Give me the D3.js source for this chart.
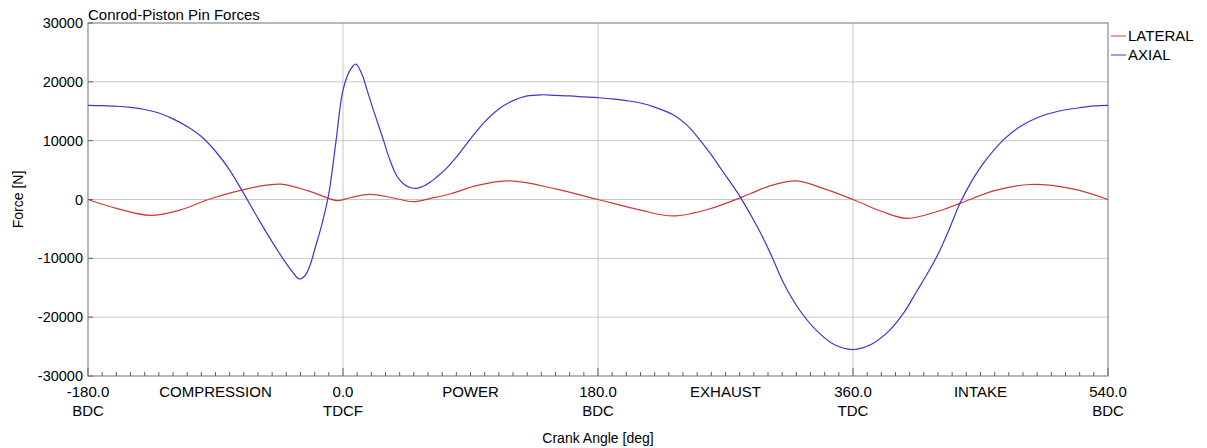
<!DOCTYPE html>
<html>
<head>
<meta charset="utf-8">
<script src="https://cdn.jsdelivr.net/npm/d3@7"></script>
<style>
  body { margin: 0; background: #fff; }
  text { font-family: "Liberation Sans", Arial, sans-serif; fill: #000; }
</style>
</head>
<body>
<script>
const width = 1207;
const height = 448;
const margin = {top: 23, right: 99, bottom: 72, left: 88};

// crank angle [deg] and force [N]
const axialAngle = [-180, -170, -160, -150, -140, -130, -120, -110, -100, -90, -80, -70, -60, -50, -45, -40, -35, -31, -27, -23, -20, -15, -10, -5, 0, 5, 9, 13, 17, 22, 28, 33, 38, 43, 48, 52, 57, 62, 67, 73, 80, 90, 100, 110, 120, 130, 140, 150, 160, 170, 180, 190, 200, 210, 220, 233, 243, 252, 260, 268, 275, 281, 293, 302, 311, 322, 334, 347, 360, 373, 386, 396, 405, 412, 420, 428, 435.5, 444, 452, 466, 478, 490, 505, 520, 530, 540];
const axialForce = [16000, 15950, 15850, 15650, 15300, 14700, 13700, 12400, 10700, 8200, 5000, 1000, -3200, -7200, -9100, -10900, -12500, -13500, -13000, -11000, -8500, -4300, 1000, 9800, 18600, 22000, 23000, 21500, 18600, 14800, 10500, 6800, 4000, 2600, 2000, 1900, 2300, 3000, 4000, 5300, 7200, 10300, 13200, 15400, 16800, 17600, 17800, 17700, 17600, 17450, 17300, 17100, 16800, 16400, 15700, 14400, 12600, 10100, 7600, 4800, 2400, 200, -4900, -9300, -14200, -18700, -22200, -24700, -25500, -24600, -22200, -19200, -15600, -12800, -9300, -5000, -650, 3200, 6150, 10100, 12400, 13900, 15000, 15600, 15900, 16000];

const lateralAngle = [-180, -160, -136, -115, -95, -78, -60, -44, -25, -10.6, -4, 5, 19, 35, 49.6, 62, 75.5, 95, 118, 150, 180, 210, 233, 260, 287, 300, 320, 340, 360, 380, 398, 420, 435.5, 460, 485, 515, 540];
const lateralForce = [0, -1500, -2700, -1800, 0, 1200, 2200, 2600, 1500, 250, -200, 300, 880, 300, -370, 200, 930, 2400, 3150, 1800, 0, -1800, -2800, -1500, 930, 2200, 3150, 1800, 0, -2000, -3200, -2000, -650, 1500, 2550, 1800, 0];

const yTicks = [-30000, -20000, -10000, 0, 10000, 20000, 30000];
const xMajor = [-180, 0, 180, 360, 540];
const xMajorLabel = ['BDC', 'TDCF', 'BDC', 'TDC', 'BDC'];
const strokeAngle = [-90, 90, 270, 450];
const strokeName = ['COMPRESSION', 'POWER', 'EXHAUST', 'INTAKE'];

const series = [
  {name: 'LATERAL', color: '#d03838', x: lateralAngle, y: lateralForce},
  {name: 'AXIAL', color: '#3838d0', x: axialAngle, y: axialForce}
];

const svg = d3.select('body').append('svg')
    .attr('width', width)
    .attr('height', height);

const x = d3.scaleLinear().domain([-180, 540]).range([margin.left, width - margin.right]);
const y = d3.scaleLinear().domain([-30000, 30000]).range([376, margin.top]);

const plotB = y(-30000);

// grid
svg.append('g').selectAll('line')
    .data(yTicks.slice(1, -1))
    .enter().append('line')
    .attr('x1', x(-180)).attr('x2', x(540))
    .attr('y1', d => y(d)).attr('y2', d => y(d))
    .attr('stroke', '#c8c8c8');
svg.append('g').selectAll('line')
    .data(xMajor.slice(1, -1))
    .enter().append('line')
    .attr('x1', d => x(d)).attr('x2', d => x(d))
    .attr('y1', y(30000)).attr('y2', plotB)
    .attr('stroke', '#c8c8c8');

// minor ticks on the x axis, every 10 deg
svg.append('g').selectAll('line')
    .data(d3.range(-180, 541, 10))
    .enter().append('line')
    .attr('x1', d => x(d)).attr('x2', d => x(d))
    .attr('y1', plotB).attr('y2', d => plotB - (d % 180 === 0 ? 8 : 4))
    .attr('stroke', '#606060');
svg.append('g').selectAll('line')
    .data(yTicks)
    .enter().append('line')
    .attr('x1', x(-180)).attr('x2', x(-180) + 5)
    .attr('y1', d => y(d)).attr('y2', d => y(d))
    .attr('stroke', '#606060');

// frame
svg.append('rect')
    .attr('x', x(-180)).attr('y', y(30000))
    .attr('width', x(540) - x(-180)).attr('height', plotB - y(30000))
    .attr('fill', 'none').attr('stroke', '#707070');

// curves
const line = d3.line().curve(d3.curveCatmullRom.alpha(0.5));
series.forEach(s => {
  svg.append('path')
      .attr('d', line(s.x.map((a, i) => [x(a), y(s.y[i])])))
      .attr('fill', 'none')
      .attr('stroke', s.color)
      .attr('stroke-width', 1.2);
});

// y labels
svg.append('g').selectAll('text')
    .data(yTicks)
    .enter().append('text')
    .attr('x', x(-180) - 5).attr('y', d => y(d) + 5)
    .attr('text-anchor', 'end')
    .style('font-size', '14.5px')
    .text(d => d);

// x labels
const xl = svg.append('g');
xl.selectAll('text.num')
    .data(xMajor)
    .enter().append('text')
    .attr('x', d => x(d)).attr('y', plotB + 21)
    .attr('text-anchor', 'middle')
    .style('font-size', '15px')
    .text(d => d.toFixed(1));
xl.selectAll('text.tag')
    .data(xMajor)
    .enter().append('text')
    .attr('x', d => x(d)).attr('y', plotB + 40)
    .attr('text-anchor', 'middle')
    .style('font-size', '15px')
    .text((d, i) => xMajorLabel[i]);
xl.selectAll('text.stroke')
    .data(strokeAngle)
    .enter().append('text')
    .attr('x', d => x(d)).attr('y', plotB + 21)
    .attr('text-anchor', 'middle')
    .style('font-size', '15px')
    .text((d, i) => strokeName[i]);

svg.append('text')
    .attr('x', x(180)).attr('y', 443)
    .attr('text-anchor', 'middle')
    .style('font-size', '14px')
    .text('Crank Angle [deg]');

svg.append('text')
    .attr('transform', `translate(23, ${y(0)}) rotate(-90)`)
    .attr('text-anchor', 'middle')
    .style('font-size', '14px')
    .text('Force [N]');

svg.append('text')
    .attr('x', x(-180)).attr('y', 20)
    .style('font-size', '15px')
    .text('Conrod-Piston Pin Forces');

// legend
const legend = svg.append('g').attr('transform', `translate(${x(540) + 3}, 36)`);
series.forEach((s, i) => {
  legend.append('line')
      .attr('x1', 0).attr('x2', 15)
      .attr('y1', i * 19).attr('y2', i * 19)
      .attr('stroke', s.color);
  legend.append('text')
      .attr('x', 17).attr('y', i * 19 + 5)
      .style('font-size', '15px')
      .text(s.name);
});
</script>
</body>
</html>
